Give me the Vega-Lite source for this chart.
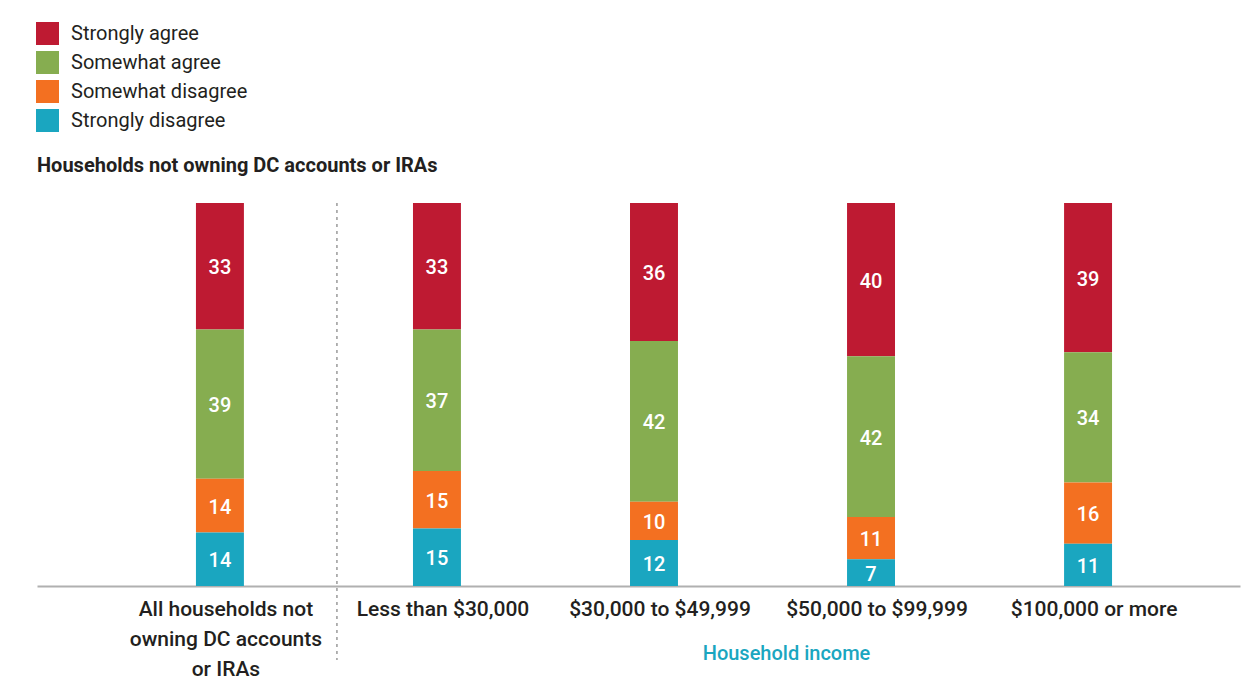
{
  "$schema": "https://vega.github.io/schema/vega-lite/v6.json",
  "width": 1203,
  "height": 383,
  "autosize": {"type": "none"},
  "padding": {"left": 37, "top": 203, "right": 17, "bottom": 112},
  "background": "white",
  "config": {"view": {"stroke": null}, "font": "Roboto"},
  "title": {
    "text": "Households not owning DC accounts or IRAs",
    "orient": "top",
    "anchor": "start",
    "frame": "group",
    "offset": -154,
    "fontSize": 20,
    "fontWeight": "bold",
    "color": "#231f20",
    "font": "Roboto"
  },
  "data": {
    "values": [
      {"group": "All households not owning DC accounts or IRAs", "response": "Strongly agree", "value": 33, "rank": 4},
      {"group": "All households not owning DC accounts or IRAs", "response": "Somewhat agree", "value": 39, "rank": 3},
      {"group": "All households not owning DC accounts or IRAs", "response": "Somewhat disagree", "value": 14, "rank": 2},
      {"group": "All households not owning DC accounts or IRAs", "response": "Strongly disagree", "value": 14, "rank": 1},
      {"group": "Less than $30,000", "response": "Strongly agree", "value": 33, "rank": 4},
      {"group": "Less than $30,000", "response": "Somewhat agree", "value": 37, "rank": 3},
      {"group": "Less than $30,000", "response": "Somewhat disagree", "value": 15, "rank": 2},
      {"group": "Less than $30,000", "response": "Strongly disagree", "value": 15, "rank": 1},
      {"group": "$30,000 to $49,999", "response": "Strongly agree", "value": 36, "rank": 4},
      {"group": "$30,000 to $49,999", "response": "Somewhat agree", "value": 42, "rank": 3},
      {"group": "$30,000 to $49,999", "response": "Somewhat disagree", "value": 10, "rank": 2},
      {"group": "$30,000 to $49,999", "response": "Strongly disagree", "value": 12, "rank": 1},
      {"group": "$50,000 to $99,999", "response": "Strongly agree", "value": 40, "rank": 4},
      {"group": "$50,000 to $99,999", "response": "Somewhat agree", "value": 42, "rank": 3},
      {"group": "$50,000 to $99,999", "response": "Somewhat disagree", "value": 11, "rank": 2},
      {"group": "$50,000 to $99,999", "response": "Strongly disagree", "value": 7, "rank": 1},
      {"group": "$100,000 or more", "response": "Strongly agree", "value": 39, "rank": 4},
      {"group": "$100,000 or more", "response": "Somewhat agree", "value": 34, "rank": 3},
      {"group": "$100,000 or more", "response": "Somewhat disagree", "value": 16, "rank": 2},
      {"group": "$100,000 or more", "response": "Strongly disagree", "value": 11, "rank": 1}
    ]
  },
  "encoding": {
    "x": {
      "field": "group",
      "type": "nominal",
      "sort": ["All households not owning DC accounts or IRAs", "Less than $30,000", "$30,000 to $49,999", "$50,000 to $99,999", "$100,000 or more"],
      "scale": {"paddingInner": 0.779, "paddingOuter": 0.661, "align": 0.554},
      "axis": {
        "title": "Household income",
        "titleColor": "#1aa6c0",
        "titleFontSize": 20,
        "titleFontWeight": 500,
        "titleFont": "Roboto",
        "titleX": 749,
        "titleY": 67,
        "titleAlign": "center",
        "titleBaseline": "middle",
        "labelAngle": 0,
        "labelFont": "Roboto",
        "labelFontSize": 21,
        "labelFontWeight": 500,
        "labelColor": "#231f20",
        "labelPadding": 12,
        "labelLineHeight": 30,
        "labelOffset": 6,
        "labelLimit": 0,
        "ticks": false,
        "domainColor": "#b0b0b0",
        "domainWidth": 2,
        "labelExpr": "datum.value == 'All households not owning DC accounts or IRAs' ? ['All households not', 'owning DC accounts', 'or IRAs'] : datum.value"
      }
    }
  },
  "layer": [
    {
      "mark": {"type": "bar"},
      "encoding": {
        "y": {"field": "value", "type": "quantitative", "stack": "zero", "scale": {"domain": [0, 100], "nice": false}, "axis": null},
        "color": {
          "field": "response",
          "type": "nominal",
          "scale": {
            "domain": ["Strongly agree", "Somewhat agree", "Somewhat disagree", "Strongly disagree"],
            "range": ["#be1a32", "#86ad50", "#f37021", "#1aa6c0"]
          },
          "legend": {
            "title": null,
            "orient": "none",
            "legendX": -1,
            "legendY": -181,
            "symbolType": "square",
            "symbolSize": 529,
            "symbolStrokeWidth": 0,
            "symbolOpacity": 1,
            "labelFont": "Roboto",
            "labelFontSize": 20,
            "labelColor": "#231f20",
            "labelOffset": 12,
            "labelLimit": 0,
            "rowPadding": 6,
            "padding": 0
          }
        },
        "order": {"field": "rank"}
      }
    },
    {
      "mark": {"type": "text", "color": "white", "fontSize": 20, "fontWeight": 500, "baseline": "middle", "font": "Roboto", "dy": 2},
      "encoding": {
        "y": {"field": "value", "type": "quantitative", "stack": "zero", "bandPosition": 0.5},
        "detail": {"field": "response"},
        "text": {"field": "value", "type": "quantitative"},
        "order": {"field": "rank"}
      }
    },
    {
      "data": {"values": [{}]},
      "mark": {"type": "rule", "color": "#9a9a9a", "strokeDash": [3, 4], "strokeWidth": 1.5, "xOffset": 117},
      "encoding": {
        "x": {"datum": "All households not owning DC accounts or IRAs", "bandPosition": 0.5},
        "y": {"datum": 100},
        "y2": {"datum": -19.3}
      }
    }
  ]
}
